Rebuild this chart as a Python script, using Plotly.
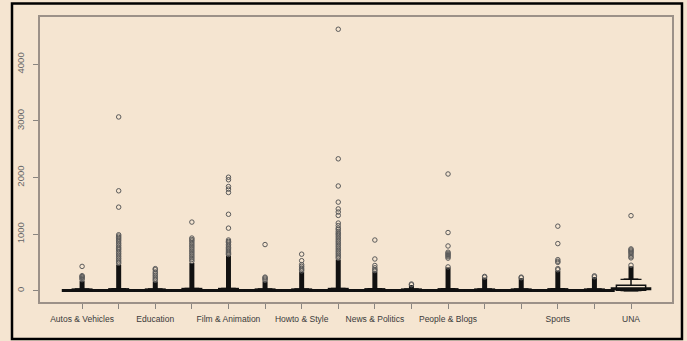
import plotly.graph_objects as go

# ---------------- data ----------------
categories = ["Autos & Vehicles", "Comedy", "Education", "Entertainment",
              "Film & Animation", "Gadgets & Games", "Howto & Style", "Music",
              "News & Politics", "Nonprofits & Activism", "People & Blogs",
              "Pets & Animals", "Science & Technology", "Sports",
              "Travel & Events", "UNA"]
tick_labels = ["Autos & Vehicles", "", "Education", "", "Film & Animation", "",
               "Howto & Style", "", "News & Politics", "", "People & Blogs", "",
               "", "Sports", "", "UNA"]

q1 = [0, 0, 0, 0, 0, 0, 0, 0, 0, 0, 0, 0, 0, 0, 0, 8]
median = [3, 4, 3, 5, 5, 3, 3, 5, 4, 3, 4, 3, 3, 4, 3, 35]
q3 = [12, 15, 12, 18, 18, 12, 12, 18, 15, 12, 15, 12, 12, 15, 12, 95]
lower_whisker = [0, 0, 0, 0, 0, 0, 0, 0, 0, 0, 0, 0, 0, 0, 0, 0]
upper_whisker = [30, 35, 30, 40, 40, 30, 30, 40, 35, 30, 35, 30, 30, 35, 30, 200]

# top of the solid run of overlapping outliers above each whisker
dense_top = [170, 460, 165, 490, 620, 165, 330, 550, 340, 100, 410, 230, 220,
             350, 240, 430]

# individually visible outliers
outliers_autos = [429, 265, 250, 235, 215, 195]
outliers_comedy = [3070, 1765, 1476, 988, 965, 940, 915, 890, 860, 830, 800, 770,
                   745, 720, 690, 660, 630, 600, 570, 540, 510, 485]
outliers_education = [390, 370, 330, 300, 270, 240, 210, 185]
outliers_entertainment = [1212, 930, 905, 880, 850, 820, 790, 760, 730, 700, 670,
                          640, 610, 580, 550, 520]
outliers_film = [2005, 1960, 1840, 1795, 1735, 1350, 1105, 895, 870, 850, 820, 790,
                 760, 740, 720, 700, 680, 660, 640]
outliers_gadgets = [815, 240, 225, 205, 185]
outliers_howto = [645, 530, 460, 430, 400, 375, 350]
outliers_music = [4620, 2330, 1850, 1565, 1445, 1390, 1330, 1195, 1150, 1105, 1080,
                  1045, 1015, 990, 960, 930, 900, 870, 840, 810, 780, 750, 720,
                  690, 660, 630, 600, 575]
outliers_news = [895, 560, 445, 405, 375, 355]
outliers_nonprofits = [118, 105]
outliers_people = [2062, 1027, 790, 680, 660, 640, 620, 600, 575, 420]
outliers_pets = [252, 240]
outliers_science = [240, 228]
outliers_sports = [1140, 832, 548, 520, 500, 390, 370]
outliers_travel = [262, 245]
outliers_una = [1325, 738, 720, 700, 680, 660, 630, 600, 580, 450]

outliers = [outliers_autos, outliers_comedy, outliers_education,
            outliers_entertainment, outliers_film, outliers_gadgets,
            outliers_howto, outliers_music, outliers_news, outliers_nonprofits,
            outliers_people, outliers_pets, outliers_science, outliers_sports,
            outliers_travel, outliers_una]

y_ticks = [0, 1000, 2000, 3000, 4000]

# ---------------- styling ----------------
BG = "#F5E5D1"
FRAME = "#9c9188"
FONT = "Liberation Sans, Arial, sans-serif"
INK = "#111111"
CIRCLE = "#5a5a5a"

fig = go.Figure()

# boxes (precomputed statistics)
fig.add_trace(go.Box(
    x=categories, q1=q1, median=median, q3=q3,
    lowerfence=lower_whisker, upperfence=upper_whisker,
    width=0.8, fillcolor="rgba(0,0,0,0)",
    line=dict(color=INK, width=1.5),
    boxpoints=False, hoverinfo="skip",
))

# thick median bars
fig.add_trace(go.Scatter(
    x=categories, y=median, mode="markers",
    marker=dict(symbol="line-ew", size=29, color=INK,
                line=dict(color=INK, width=3)),
    hoverinfo="skip",
))

# whisker staples
fig.add_trace(go.Scatter(
    x=categories + categories, y=upper_whisker + lower_whisker, mode="markers",
    marker=dict(symbol="line-ew", size=15, color=INK,
                line=dict(color=INK, width=1.2)),
    hoverinfo="skip",
))

# solid runs of overlapping outlier circles
dx, dy = [], []
for c, lo, hi in zip(categories, upper_whisker, dense_top):
    dx += [c, c, None]
    dy += [lo, hi, None]
fig.add_trace(go.Scatter(
    x=dx, y=dy, mode="lines",
    line=dict(color=INK, width=5),
    hoverinfo="skip",
))

# individual outliers
ox, oy = [], []
for c, vals in zip(categories, outliers):
    ox += [c] * len(vals)
    oy += vals
fig.add_trace(go.Scatter(
    x=ox, y=oy, mode="markers",
    marker=dict(symbol="circle-open", size=4.5, color=CIRCLE,
                line=dict(color=CIRCLE, width=1)),
    hoverinfo="skip",
))

# outer black frame of the picture
fig.add_shape(type="rect", xref="paper", yref="paper",
              x0=-0.0443, x1=1.0158, y0=-0.1298, y1=1.047,
              line=dict(color="#000000", width=2.5), layer="above")

fig.update_layout(
    width=687, height=341, autosize=False,
    margin=dict(l=40, r=15, t=17, b=39, autoexpand=False),
    paper_bgcolor=BG, plot_bgcolor=BG,
    showlegend=False,
    font=dict(family=FONT, color="#333333"),
    xaxis=dict(
        type="category", categoryorder="array", categoryarray=categories,
        tickmode="array", tickvals=categories, ticktext=tick_labels,
        range=[-1.15, 16.12], automargin=False,
        showline=True, mirror=True, linecolor=FRAME, linewidth=2,
        ticks="outside", ticklen=5, tickwidth=1, tickcolor="#8a8580",
        tickfont=dict(size=8.5, color="#3a3a3a", family=FONT),
        ticklabelstandoff=3,
        showgrid=False, zeroline=False,
    ),
    yaxis=dict(
        range=[-200, 4836], automargin=False,
        tickmode="array", tickvals=y_ticks, ticktext=[str(v) for v in y_ticks],
        tickangle=-90,
        showline=True, mirror=True, linecolor=FRAME, linewidth=2,
        ticks="outside", ticklen=5, tickwidth=1, tickcolor="#8a8580",
        tickfont=dict(size=9.5, color="#666666", family=FONT),
        ticklabelstandoff=5,
        showgrid=False, zeroline=False,
    ),
)

fig.write_html(
    "out.html",
    config={"displayModeBar": False, "staticPlot": True},
    post_script="document.body.style.margin='0';document.body.style.padding='0';"
                "document.body.style.overflow='hidden';"
                "document.body.style.background='" + BG + "';",
)
